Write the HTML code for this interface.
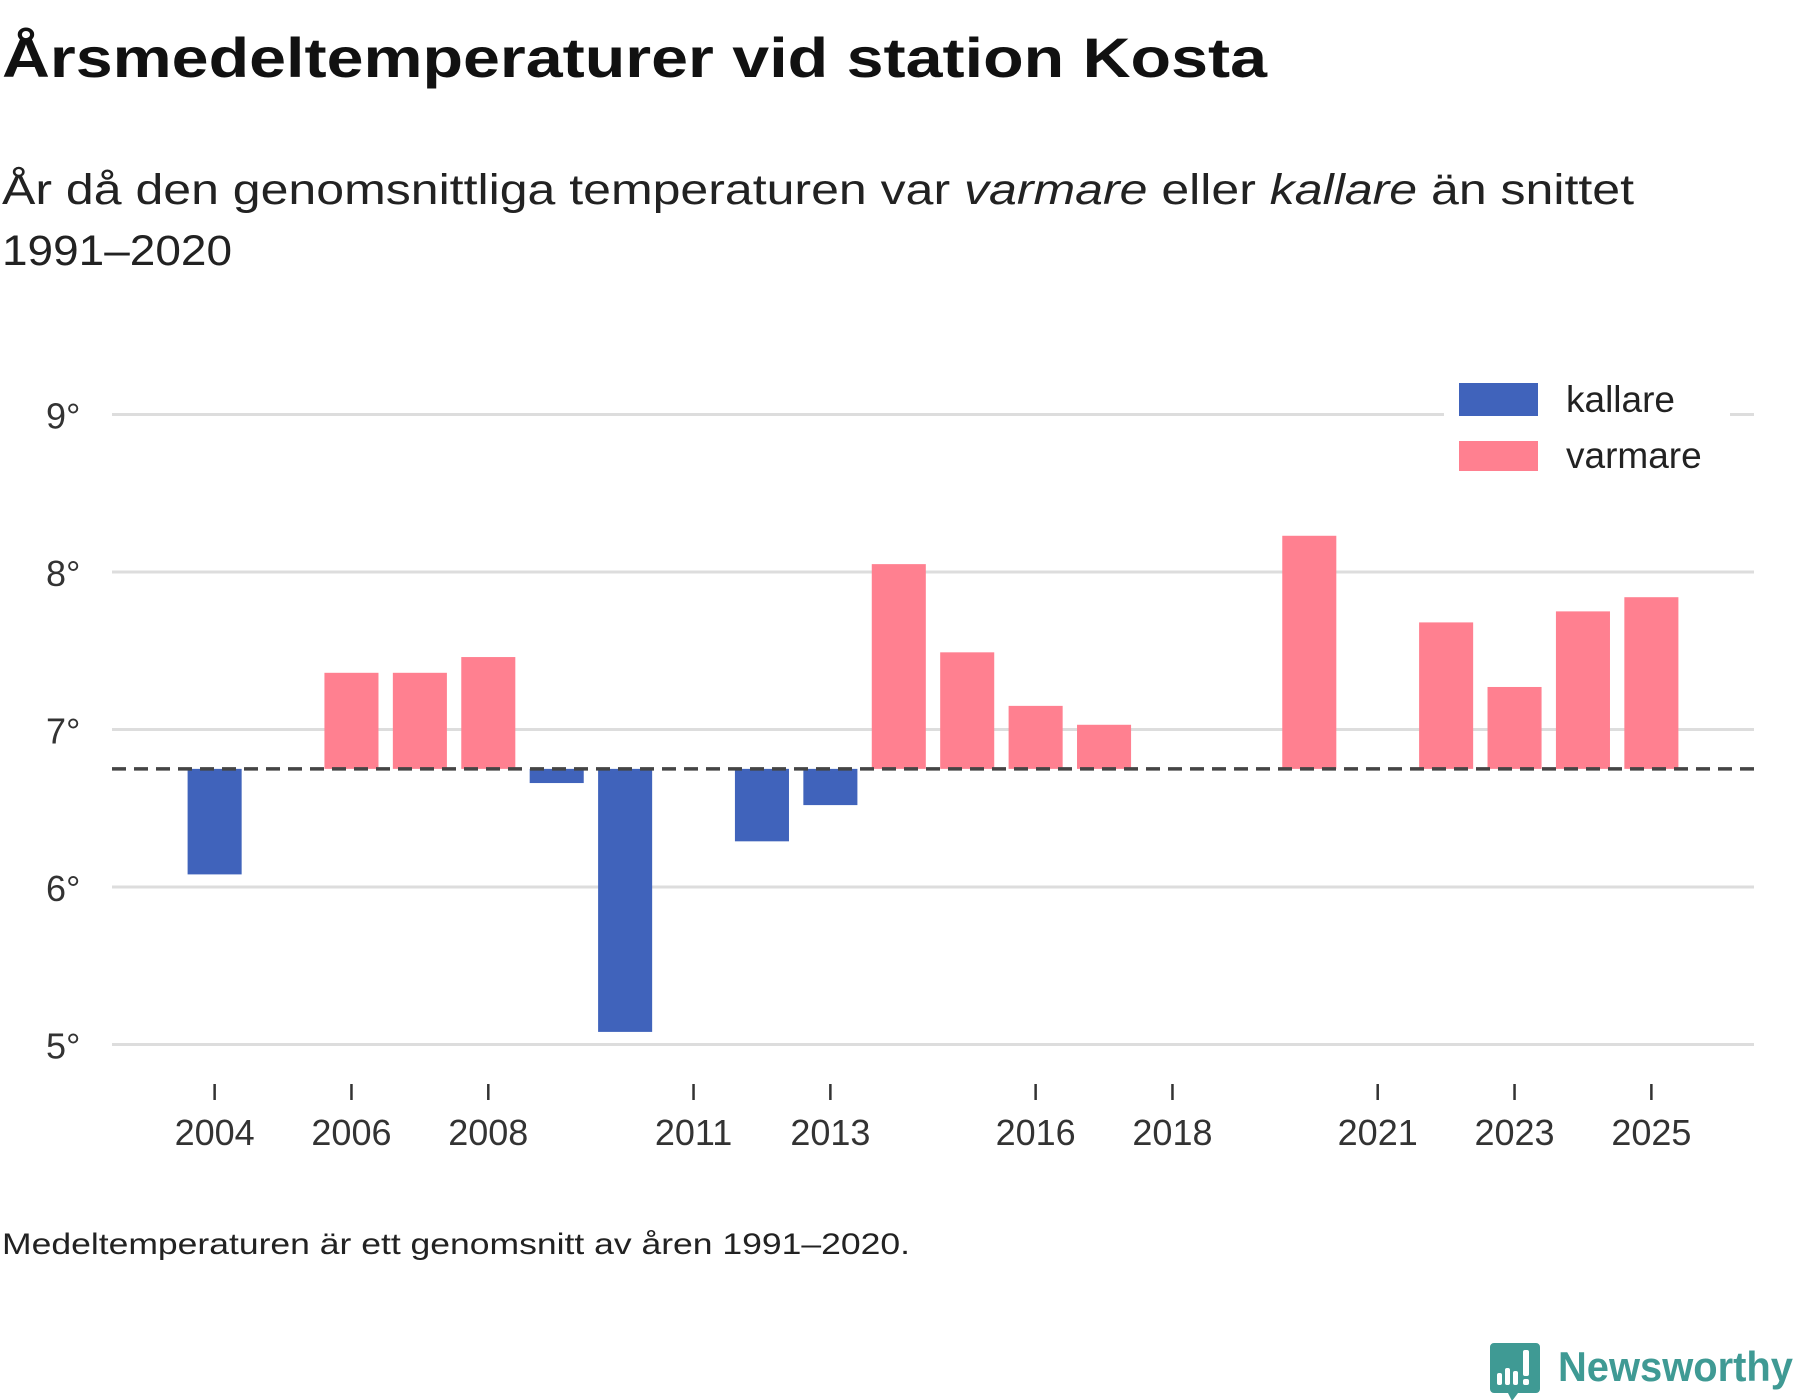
<!DOCTYPE html>
<html><head><meta charset="utf-8"><style>
html,body{margin:0;padding:0;background:#fff;}
svg{display:block;font-family:"Liberation Sans",sans-serif;}
</style></head><body>
<svg id="chart" width="1800" height="1400" viewBox="0 0 1800 1400">
<text x="2" y="77" font-size="56" font-weight="bold" fill="#111" textLength="1265" lengthAdjust="spacingAndGlyphs">Årsmedeltemperaturer vid station Kosta</text>
<text x="2" y="204" font-size="43" fill="#222" textLength="1632" lengthAdjust="spacingAndGlyphs">År då den genomsnittliga temperaturen var <tspan font-style="italic">varmare</tspan> eller <tspan font-style="italic">kallare</tspan> än snittet</text>
<text x="2" y="265" font-size="43" fill="#222" textLength="230" lengthAdjust="spacingAndGlyphs">1991–2020</text>
<g id="grid"></g><g id="bars"></g><g id="xaxis"></g>
<g>
<rect x="1444" y="370" width="286" height="115" fill="#fff"/>
<rect x="1459" y="383" width="79" height="33" fill="#4063bb"/>
<text x="1566" y="412" font-size="37" fill="#222">kallare</text>
<rect x="1459" y="441" width="79" height="30" fill="#ff8090"/>
<text x="1566" y="468" font-size="37" fill="#222">varmare</text>
</g>
<text x="2" y="1254" font-size="30" fill="#222" textLength="908" lengthAdjust="spacingAndGlyphs">Medeltemperaturen är ett genomsnitt av åren 1991–2020.</text>
<g>
<path d="M1494 1343 h42 a4 4 0 0 1 4 4 v42 a4 4 0 0 1 -4 4 h-18 l-6 8 l-4 -8 h-14 a4 4 0 0 1 -4 -4 v-42 a4 4 0 0 1 4 -4z" fill="#3f9a94"/>
<rect x="1497" y="1373" width="5" height="12" rx="2" fill="#fff"/>
<rect x="1505" y="1368" width="5" height="17" rx="2" fill="#fff"/>
<rect x="1513" y="1371" width="5" height="14" rx="2" fill="#fff"/>
<rect x="1523" y="1350" width="6" height="26" rx="2" fill="#fff"/>
<rect x="1523" y="1379" width="6" height="6" rx="2" fill="#fff"/>
<text x="1558" y="1381" font-size="42" font-weight="bold" fill="#3f9a94" textLength="235" lengthAdjust="spacingAndGlyphs">Newsworthy</text>
</g>
</svg>
<script>
const years = [2004,2005,2006,2007,2008,2009,2010,2011,2012,2013,2014,2015,2016,2017,2018,2019,2020,2021,2022,2023,2024,2025];
const temps = [6.08,null,7.36,7.36,7.46,6.66,5.08,null,6.29,6.52,8.05,7.49,7.15,7.03,null,null,8.23,null,7.68,7.27,7.75,7.84];
const average = 6.75;
const yTicks = [5,6,7,8,9];
const yTickLabels = ["5°","6°","7°","8°","9°"];
const xTicks = [2004,2006,2008,2011,2013,2016,2018,2021,2023,2025];

const NS="http://www.w3.org/2000/svg";
const x0=112,x1=1754,domMin=2002.5,domMax=2026.5;
const xs=v=>x0+(v-domMin)/(domMax-domMin)*(x1-x0);
const ys=v=>414.5-(v-9)*157.5;
const bw=(x1-x0)/(domMax-domMin)*0.79;
function mk(tag,attrs,parent){const e=document.createElementNS(NS,tag);for(const k in attrs)e.setAttribute(k,attrs[k]);parent.appendChild(e);return e;}
const grid=document.getElementById('grid'),bars=document.getElementById('bars'),xa=document.getElementById('xaxis');
yTicks.forEach((t,i)=>{
 const l=mk('line',{x1:x0,x2:x1,y1:ys(t),y2:ys(t),stroke:'#dddddd','stroke-width':3},grid);
 
 
 const tx=mk('text',{x:46,y:ys(t)+14,'font-size':36,fill:'#333'},grid);
 tx.textContent=yTickLabels[i];
 
 
});
years.forEach((yr,i)=>{
 const v=temps[i]; if(v===null)return;
 const top=Math.min(ys(v),ys(average)),h=Math.abs(ys(v)-ys(average));
 const r=mk('rect',{x:xs(yr)-bw/2,y:top,width:bw,height:h,fill:v>=average?'#ff8090':'#4063bb'},bars);
 
 
});
const d=mk('line',{x1:x0,x2:x1,y1:ys(average),y2:ys(average),stroke:'#444','stroke-width':3.5,'stroke-dasharray':'14 8'},bars);


xTicks.forEach(yr=>{
 const t=mk('line',{x1:xs(yr),x2:xs(yr),y1:1084,y2:1100,stroke:'#333','stroke-width':2.5},xa);
 
 
 const tx=mk('text',{x:xs(yr),y:1145,'font-size':36,fill:'#333','text-anchor':'middle'},xa);
 tx.textContent=yr;
 
 
});
</script>
</body></html>
